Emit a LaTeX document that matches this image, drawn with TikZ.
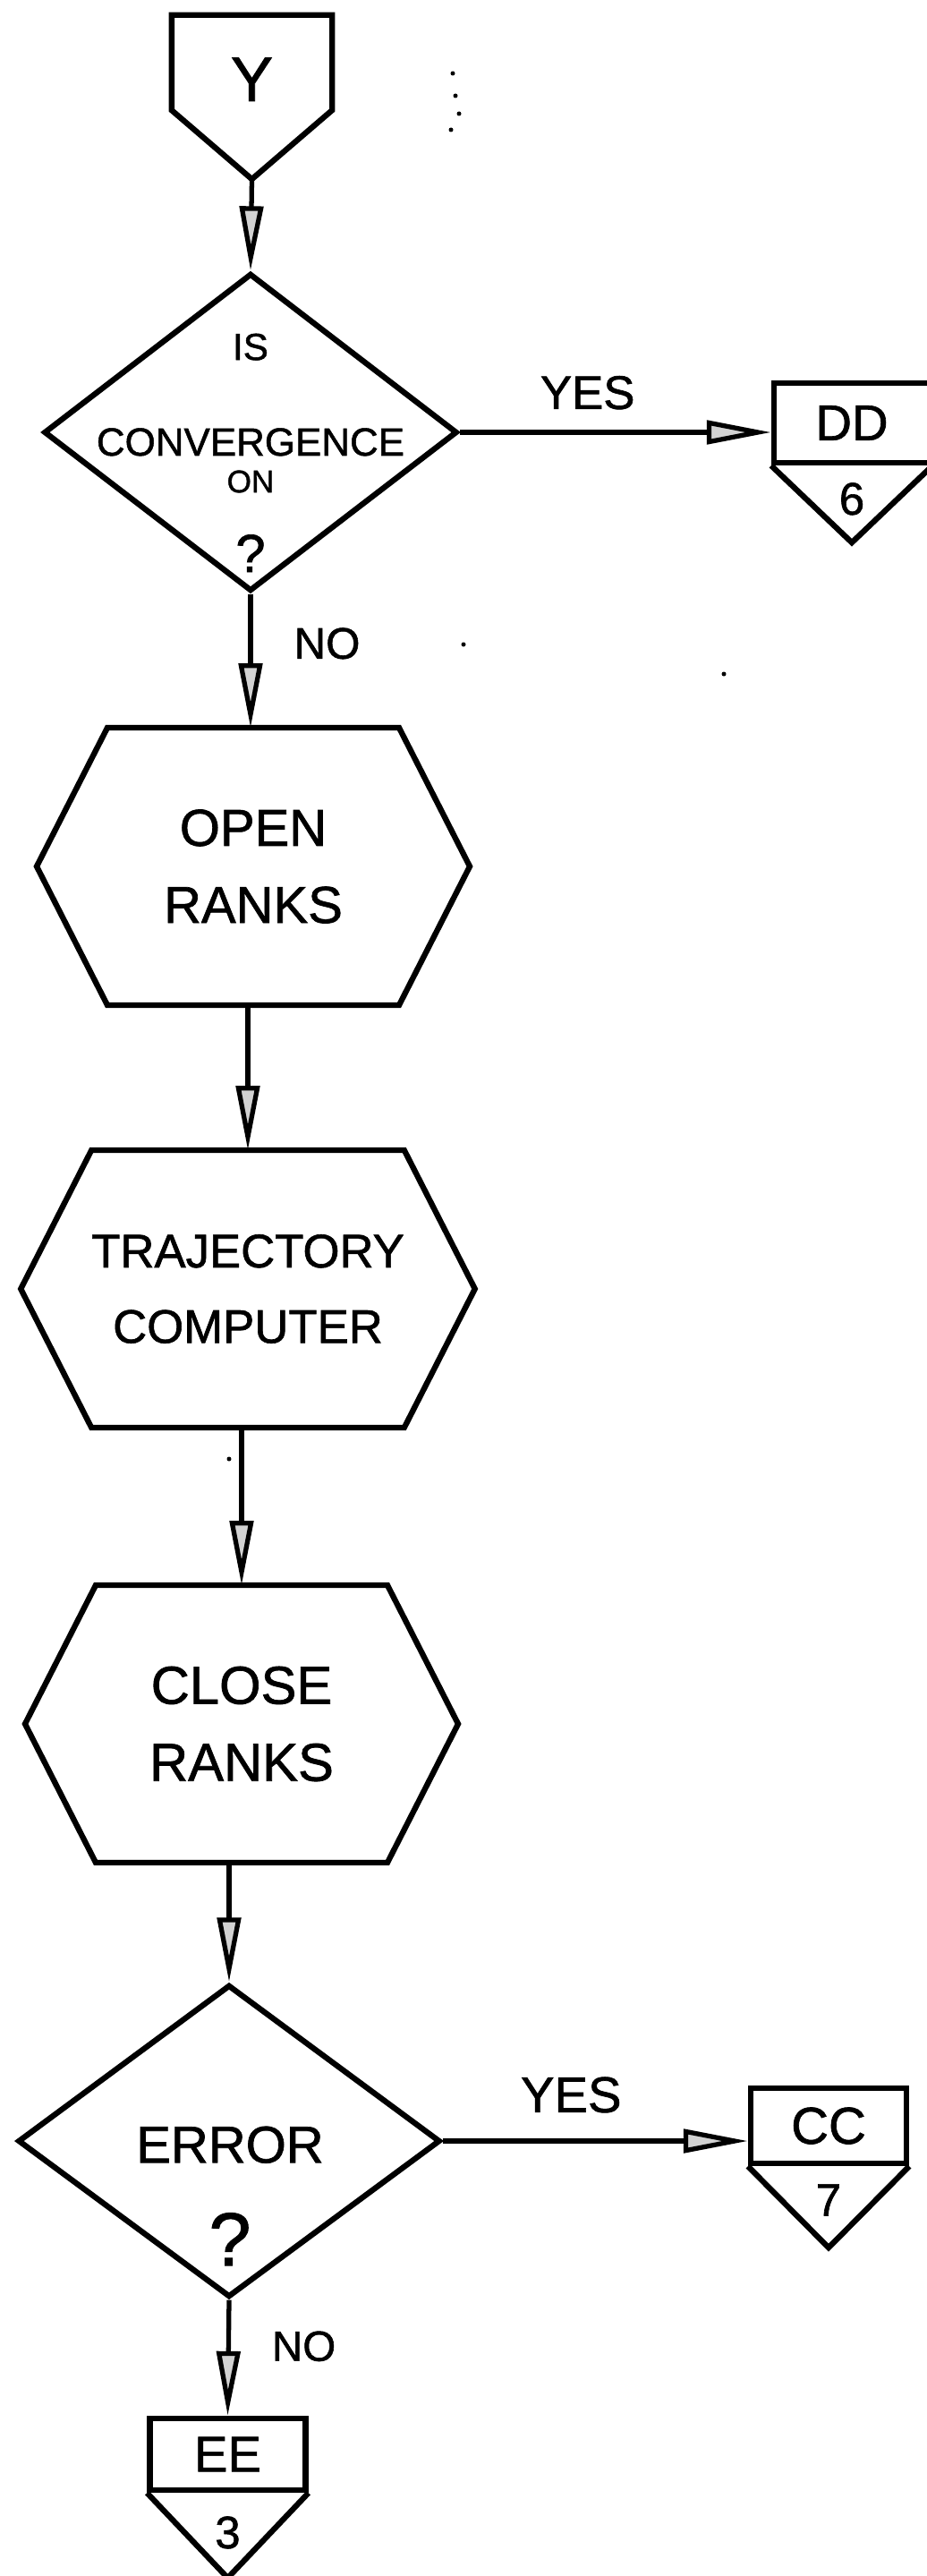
\documentclass[tikz,border=0pt]{standalone}
\usepackage{fontspec}
\setmainfont{Liberation Sans}[BoldFont=*, BoldFeatures={FakeBold=1.2}]
\usetikzlibrary{positioning, shapes.geometric, arrows.meta}

\begin{document}
\begin{tikzpicture}[
    every node/.style={font=\bfseries},
    box/.style={draw, line width=1.8pt, inner sep=0pt},
    decision/.style={box, diamond, minimum width=4.62cm, minimum height=3.55cm},
    process/.style={inner sep=0pt, outer sep=0pt, minimum width=3.26cm, minimum height=3.10cm,
        align=center, font=\bfseries\fontsize{16.5}{24.5}\selectfont},
    offpage/.style={box, minimum width=1.74cm, minimum height=0.86cm, font=\bfseries\fontsize{16}{16}\selectfont},
    digit/.style={inner sep=0pt, font=\bfseries\fontsize{14.5}{14.5}\selectfont},
    answer/.style={inner sep=0pt, font=\bfseries\fontsize{15}{15}\selectfont},
    flow/.style={line width=1.5pt, -{Triangle[length=0.72cm, width=0.26cm, fill=gray!35]}}
    ]
        \useasboundingbox (0,0) rectangle (10.35,-28.78);
        %---------------------------
        \node[box, draw=none, minimum width=1.73cm, minimum height=1cm, text height=0.86cm, text depth=0pt,
            font=\bfseries\fontsize{20}{20}\selectfont] (y) at (2.815,-0.70) {Y};
        \coordinate[below=0.77cm of y.south] (y tip);
        \draw[line width=1.8pt] (y.north west) -- (y.south west) -- (y tip) -- (y.south east) -- (y.north east) -- cycle;

        \node[decision] (conv) at (2.80,-4.83) {};
        \node[anchor=north, inner sep=0pt, align=center, font=\bfseries\fontsize{12}{12}\selectfont] (conv text) at (2.80,-3.72)
            {IS\\[18.4pt] {\fontsize{12.5}{12}\selectfont CONVERGENCE}\\[-0.3pt]
             {\fontsize{10}{12}\selectfont ON}\\[13.3pt] {\fontsize{17}{12}\selectfont ?}};

        \node[offpage, minimum height=0.89cm] (dd) at (9.52,-4.725) {DD};
        \coordinate[below=0.86cm of dd.south] (dd tip);
        \draw[line width=1.8pt] (dd.south west) -- (dd tip) -- (dd.south east);
        \node[digit, above=0.30cm of dd tip] (dd num) {6};

        \node[process] (open) at (2.83,-9.68) {OPEN\\RANKS};
        \node[process, font=\bfseries\fontsize{15}{24}\selectfont] (traj) at (2.77,-14.40) {TRAJECTORY\\COMPUTER};
        \node[process, font=\bfseries\fontsize{17}{24.5}\selectfont] (close) at (2.70,-19.26) {CLOSE\\RANKS};
        \foreach \h in {open, traj, close}
            \draw[line width=1.8pt] (\h.north west) -- (\h.north east) -- ++(0.79,-1.55) -- (\h.south east)
                -- (\h.south west) -- ++(-0.79,1.55) -- cycle;

        \node[decision, minimum width=4.72cm, minimum height=3.49cm] (err) at (2.56,-23.92) {};
        \node[anchor=north, inner sep=0pt, align=center, font=\bfseries\fontsize{16.5}{16.5}\selectfont] (err text) at (2.57,-23.75)
            {ERROR\\[14.8pt] {\fontsize{24}{16.5}\selectfont ?}};

        \node[offpage, minimum height=0.84cm, font=\bfseries\fontsize{16.5}{16.5}\selectfont] (cc) at (9.26,-23.75) {CC};
        \coordinate[below=0.91cm of cc.south] (cc tip);
        \draw[line width=1.8pt] (cc.south west) -- (cc tip) -- (cc.south east);
        \node[digit, above=0.35cm of cc tip] (cc num) {7};

        \node[offpage, minimum height=0.80cm] (ee) at (2.545,-27.42) {EE};
        \coordinate[below=0.95cm of ee.south] (ee tip);
        \draw[line width=1.8pt] (ee.south west) -- (ee tip) -- (ee.south east);
        \node[digit, above=0.32cm of ee tip] (ee num) {3};
        %--------------------------
        \path[flow]
        (y tip) edge (conv.north)
        (conv.east) edge node[answer, above=0.23cm, pos=0.41] (yes1) {YES} (conv.east -| dd.west)
        (conv.south) edge node[answer, right=0.46cm, pos=0.37, font=\bfseries\fontsize{14}{14}\selectfont] (no1) {NO} (conv.south |- open.north)
        (open.south -| traj.north) edge (traj.north)
        (traj.south -| close.north) edge (close.north)
        (close.south -| err.north) edge (err.north)
        (err.east) edge node[answer, above=0.29cm, pos=0.42, font=\bfseries\fontsize{16}{16}\selectfont] (yes2) {YES} (err.east -| cc.west)
        (err.south) edge node[answer, right=0.46cm, pos=0.40, font=\bfseries\fontsize{13.5}{13.5}\selectfont] (no2) {NO} (ee.north);
        %--------------------------
        % specks of ink
        \foreach \sx/\sy in {5.06/-0.82, 5.09/-1.07, 5.13/-1.27, 5.04/-1.45, 5.18/-7.20, 8.09/-7.53, 2.56/-16.30}
            \fill (\sx,\sy) circle (0.025);
\end{tikzpicture}
\end{document}
